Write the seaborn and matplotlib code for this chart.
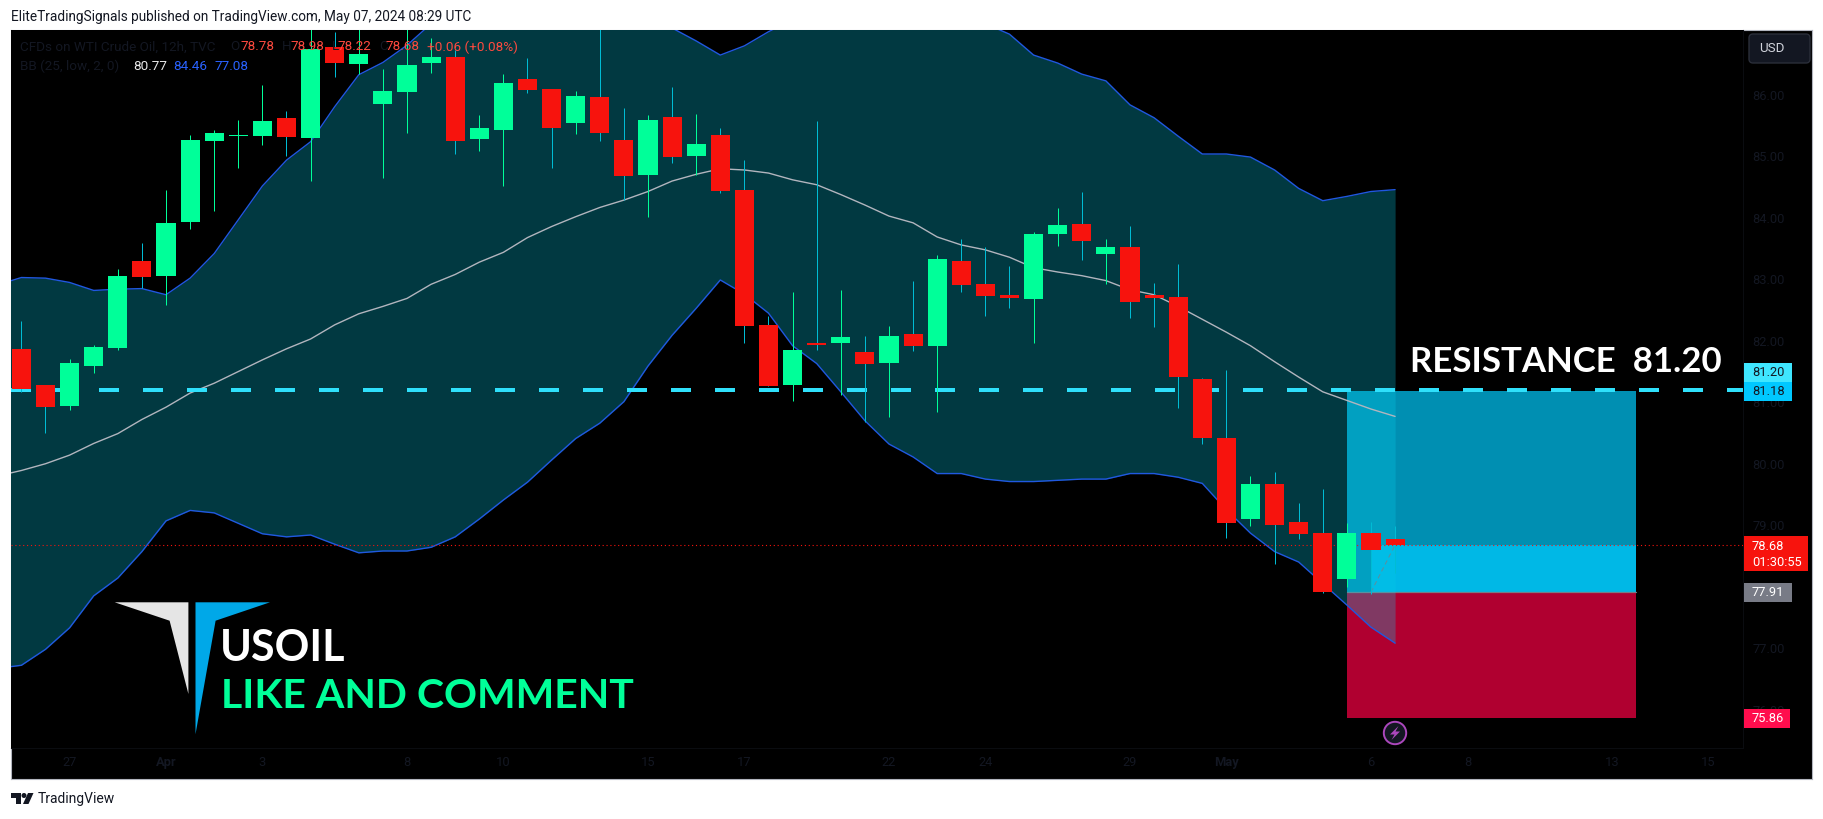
import matplotlib
matplotlib.use("Agg")
import matplotlib.pyplot as plt
from matplotlib.patches import Polygon, Rectangle, FancyBboxPatch, Circle
import numpy as np
import pandas as pd
import seaborn as sns

# candles, 12h
opens = [81.87, 81.28, 80.94, 81.59, 81.88, 83.30, 83.05, 83.93, 85.25, 85.33, 85.33, 85.63, 85.30, 86.78, 86.50,
         85.85, 86.05, 86.52, 86.62, 85.28, 85.43, 86.26, 86.10, 85.54, 85.97, 85.27, 84.70, 85.64, 85.01, 85.35,
         84.45, 82.26, 81.28, 81.96, 81.96, 81.82, 81.64, 82.11, 81.92, 83.30, 82.92, 82.75, 82.68, 83.74, 83.90,
         83.41, 83.53, 82.75, 82.71, 81.38, 80.42, 79.10, 79.67, 79.05, 78.87, 78.12, 78.87, 78.78]
closes = [81.21, 80.92, 81.64, 81.90, 83.05, 83.04, 83.92, 85.27, 85.38, 85.35, 85.58, 85.32, 86.75, 86.52, 86.67,
          86.07, 86.49, 86.62, 85.25, 85.46, 86.20, 86.08, 85.46, 85.98, 85.38, 84.68, 85.59, 84.99, 85.20, 84.44,
          82.24, 81.26, 81.85, 81.93, 82.06, 81.62, 82.08, 81.92, 83.33, 82.91, 82.73, 82.70, 83.74, 83.89, 83.62,
          83.53, 82.63, 82.70, 81.41, 80.42, 79.04, 79.67, 79.00, 78.86, 77.91, 78.87, 78.60, 78.68]
highs = [82.32, 81.28, 81.70, 81.93, 83.17, 83.59, 84.45, 85.35, 85.43, 85.59, 86.16, 85.74, 87.09, 87.03, 87.11,
         86.42, 87.11, 86.93, 86.73, 85.68, 86.34, 86.60, 86.10, 86.07, 87.14, 85.79, 85.68, 86.13, 85.69, 85.46,
         84.94, 82.40, 82.79, 85.58, 82.83, 82.08, 82.24, 82.97, 83.40, 83.66, 83.53, 83.22, 83.77, 84.16, 84.42,
         83.66, 83.87, 82.94, 83.25, 81.39, 81.53, 79.80, 79.87, 79.36, 79.59, 79.04, 79.05, 78.98]
lows = [81.16, 80.50, 80.87, 81.48, 81.85, 82.86, 82.59, 83.82, 84.11, 84.81, 85.19, 85.01, 84.60, 86.29, 86.34,
        84.65, 85.38, 86.36, 85.04, 85.09, 84.52, 86.03, 84.81, 85.37, 85.25, 84.29, 84.02, 84.89, 84.70, 84.41,
        81.96, 81.26, 81.02, 81.85, 81.12, 80.68, 80.76, 81.83, 80.84, 82.79, 82.40, 82.53, 81.96, 83.54, 83.32,
        82.92, 82.37, 82.22, 80.91, 80.32, 78.79, 78.99, 78.37, 78.78, 77.90, 77.99, 77.88, 78.22]

# bollinger bands, first value is the bar before the visible candles
bb_upper = [82.91, 83.03, 83.02, 82.95, 82.82, 82.84, 82.85, 82.75, 83.02, 83.42, 83.97, 84.52, 84.94, 85.24, 85.81,
            86.33, 86.53, 86.81, 87.16, 87.38, 87.46, 87.55, 87.55, 87.46, 87.38, 87.30, 87.19, 87.12, 87.09, 86.88,
            86.65, 86.80, 87.03, 87.22, 87.38, 87.46, 87.50, 87.46, 87.42, 87.38, 87.30, 87.16, 86.99, 86.65, 86.52,
            86.34, 86.23, 85.84, 85.63, 85.33, 85.04, 85.04, 84.99, 84.78, 84.48, 84.28, 84.35, 84.43, 84.46]
bb_basis = [79.80, 79.89, 80.00, 80.14, 80.33, 80.49, 80.72, 80.92, 81.15, 81.31, 81.50, 81.69, 81.87, 82.03, 82.26,
            82.44, 82.56, 82.69, 82.92, 83.08, 83.28, 83.44, 83.68, 83.86, 84.02, 84.17, 84.29, 84.43, 84.60, 84.71,
            84.80, 84.78, 84.73, 84.62, 84.54, 84.38, 84.21, 84.03, 83.92, 83.69, 83.56, 83.48, 83.36, 83.19, 83.12,
            83.06, 82.98, 82.83, 82.75, 82.56, 82.35, 82.14, 81.92, 81.66, 81.41, 81.17, 81.03, 80.89, 80.77]
bb_lower = [76.67, 76.72, 76.98, 77.33, 77.85, 78.14, 78.57, 79.07, 79.24, 79.20, 79.03, 78.86, 78.81, 78.84, 78.69,
            78.55, 78.58, 78.58, 78.64, 78.81, 79.10, 79.41, 79.70, 80.06, 80.41, 80.66, 81.01, 81.59, 82.09, 82.53,
            82.99, 82.76, 82.45, 81.92, 81.63, 81.17, 80.70, 80.32, 80.11, 79.84, 79.84, 79.75, 79.71, 79.71, 79.73,
            79.75, 79.75, 79.84, 79.84, 79.78, 79.68, 79.25, 78.87, 78.57, 78.40, 78.05, 77.70, 77.34, 77.08]

resistance = 81.20
last_price = 78.68
entry = 77.91
target = 81.18
stop = 75.86

price_ticks = [76, 77, 78, 79, 80, 81, 82, 83, 84, 85, 86]
time_ticks = [2, 6, 10, 16, 20, 26, 30, 36, 40, 46, 50, 56, 60, 66, 70]
time_labels = ["27", "Apr", "3", "8", "10", "15", "17", "22", "24", "29", "May", "6", "8", "13", "15"]

sns.set_theme(style="dark")
plt.rcParams["font.family"] = ["Roboto", "DejaVu Sans"]

W, H = 1824, 819
DARK = "#131722"
GREEN = "#00ff99"
RED = "#f7130d"


def rect(x0, y0, x1, y1):
    return [x0 / W, 1 - y1 / H, (x1 - x0) / W, (y1 - y0) / H]


fig = plt.figure(figsize=(W / 100, H / 100), dpi=100, facecolor="white")

# black panel with the thin grey border
bg = fig.add_axes(rect(11, 30, 1812, 779), facecolor="black", zorder=0)
bg.set_xticks([])
bg.set_yticks([])
for s in bg.spines.values():
    s.set_color("#b2b5be")
    s.set_linewidth(0.8)

ax = fig.add_axes(rect(11, 30, 1743, 748), facecolor="black", zorder=1)

idx = np.arange(len(opens))
band_idx = np.arange(-1, len(opens))
bands = pd.DataFrame({"i": band_idx, "upper": bb_upper, "basis": bb_basis, "lower": bb_lower})

# long position tool
ax.add_patch(Rectangle((55, entry), 12, target - entry, color="#008fb2", lw=0, zorder=1))
ax.add_patch(Rectangle((56, entry), 11, last_price - entry, color="#00b8e6", lw=0, zorder=1.1))
ax.add_patch(Rectangle((55, stop), 12, entry - stop, color="#b00030", lw=0, zorder=1))
ax.plot([55, 67], [entry, entry], color="#787b86", lw=0.9, zorder=1.2)
ax.plot([56, 57], [entry, last_price], color="#787b86", lw=0.8, ls=(0, (4, 3)), zorder=1.2)

# bands
ax.fill_between(bands.i, bands.lower, bands.upper, color=(7 / 255, 204 / 255, 232 / 255), alpha=0.284, lw=0, zorder=2)
sns.lineplot(data=bands, x="i", y="upper", color="#2058e0", lw=1.0, ax=ax, zorder=3)
sns.lineplot(data=bands, x="i", y="lower", color="#2058e0", lw=1.0, ax=ax, zorder=3)
sns.lineplot(data=bands, x="i", y="basis", color="#b2b5be", lw=1.0, ax=ax, zorder=3)

ax.axhline(resistance, color="#2fe0fb", lw=2.88, ls=(0, (5, 6)), zorder=4)
ax.axhline(last_price, color=RED, lw=0.8, ls=(0, (1, 2.5)), zorder=4.5)

# candles
up = np.array(closes) >= np.array(opens)
body_low = np.minimum(opens, closes)
body_h = np.abs(np.array(closes) - np.array(opens))
wicks = ax.vlines(idx, lows, highs, colors=[GREEN if u else "#00bcd4" for u in up], lw=0.72, zorder=5)
wicks.set_snap(True)
ax.bar(idx, body_h, bottom=body_low, width=0.79, color=[GREEN if u else RED for u in up], lw=0, zorder=6)

ax.set_xlim(-0.4315, 71.436)
ax.set_ylim(75.374, 87.058)
ax.set_xlabel("")
ax.set_ylabel("")
ax.grid(False)
ax.yaxis.tick_right()
ax.set_yticks(price_ticks)
ax.set_yticklabels(["%.2f" % p for p in price_ticks], color=DARK, fontsize=9.3)
ax.set_xticks(time_ticks)
ax.set_xticklabels(time_labels, color=DARK, fontsize=9.3)
for lab in ax.get_xticklabels():
    if lab.get_text() in ("Apr", "May"):
        lab.set_fontweight("bold")
ax.tick_params(axis="y", length=0, pad=7)
ax.tick_params(axis="x", length=0, pad=6)
for side in ("top", "left"):
    ax.spines[side].set_visible(False)
for side in ("right", "bottom"):
    ax.spines[side].set_color("#0a0c10")
    ax.spines[side].set_linewidth(0.8)

# everything drawn on top of the chart, in figure pixels
top = fig.add_axes([0, 0, 1, 1], zorder=2)
top.set_xlim(0, W)
top.set_ylim(H, 0)
top.axis("off")
top.patch.set_alpha(0)

top.text(11, 17, "EliteTradingSignals published on TradingView.com, May 07, 2024 08:29 UTC",
         color="#131722", fontsize=9.77, va="center", ha="left")

# legend lines
leg_red = "#ff4a3f"
for x, s, c in [(20, "CFDs on WTI Crude Oil, 12h, TVC", DARK), (230.5, "O", DARK), (240, "78.78", leg_red),
                (281.5, "H", DARK), (290, "78.98", leg_red), (332, "L", DARK), (337, "78.22", leg_red),
                (379, "C", DARK), (385.5, "78.68", leg_red), (426.6, "+0.06 (+0.08%)", leg_red)]:
    top.text(x, 47, s, color=c, fontsize=9.7, va="center", ha="left")
for x, s, c in [(20, "BB (25, low, 2, 0)", DARK), (133, "80.77", "#e8e8e8"), (173, "84.46", "#2962ff"),
                (214, "77.08", "#2962ff")]:
    top.text(x, 66, s, color=c, fontsize=9.7, va="center", ha="left")

# big annotations
top.text(1410, 372, "RESISTANCE  81.20", color="white", fontsize=25, family="Lato", fontweight="bold",
         va="baseline", ha="left")
top.text(220, 661, "USOIL", color="white", fontsize=31, family="Lato", fontweight="bold", va="baseline", ha="left")
top.text(221, 708, "LIKE AND COMMENT", color=GREEN, fontsize=29.5, family="Lato", fontweight="bold",
         va="baseline", ha="left")

# logo
top.add_patch(Polygon([(114.7, 602.3), (188.4, 602.3), (188.4, 694), (169.6, 620.7)], color="#e5e5e5", lw=0))
top.add_patch(Polygon([(195.5, 602.3), (270, 602.3), (215.6, 620.7), (195.5, 734.3)], color="#00a8e8", lw=0))


def price_label(y0, y1, x1, color, text, tcolor):
    top.add_patch(Rectangle((1744, y0), x1 - 1744, y1 - y0, color=color, lw=0))
    top.text(1752, (y0 + y1) / 2, text, color=tcolor, fontsize=9.3, va="center", ha="left")


price_label(363.3, 382.3, 1791.7, "#3fe6ff", "81.20", DARK)
price_label(382.3, 401, 1791.7, "#00c8ff", "81.18", DARK)
top.add_patch(Rectangle((1744, 536), 64, 35, color=RED, lw=0))
top.text(1752, 546, "78.68", color="white", fontsize=9.3, va="center", ha="left")
top.text(1752, 562, "01:30:55", color="white", fontsize=9.3, va="center", ha="left")
price_label(583, 601.7, 1791.7, "#787b86", "77.91", "white")
price_label(709, 728, 1790, "#ff0d4d", "75.86", "white")

# currency button
top.add_patch(FancyBboxPatch((1752, 37), 55, 23, boxstyle="round,pad=3,rounding_size=4",
                             fc=DARK, ec="#2a2e39", lw=1))
top.text(1759, 49, "USD", color="#d1d4dc", fontsize=9.6, va="center", ha="left")

# lightning marker
top.add_patch(Circle((1395, 733), 11.2, fc=DARK, ec="#ab47bc", lw=1.4))
top.add_patch(Polygon([(1398.5, 726), (1390, 734.5), (1394.5, 734.5), (1391.5, 740), (1400, 731.5), (1395.5, 731.5)],
                      color="#ab47bc", lw=0))

# footer logo
top.add_patch(Polygon([(11, 793), (21, 793), (21, 804), (16, 804), (16, 798), (11, 798)], color=DARK, lw=0))
top.add_patch(Circle((24, 795.5), 2.5, color=DARK, lw=0))
top.add_patch(Polygon([(28, 793), (33.5, 793), (28.5, 804), (23, 804)], color=DARK, lw=0))
top.text(38, 799, "TradingView", color=DARK, fontsize=10, va="center", ha="left")

fig.savefig("out.png", dpi=100)
